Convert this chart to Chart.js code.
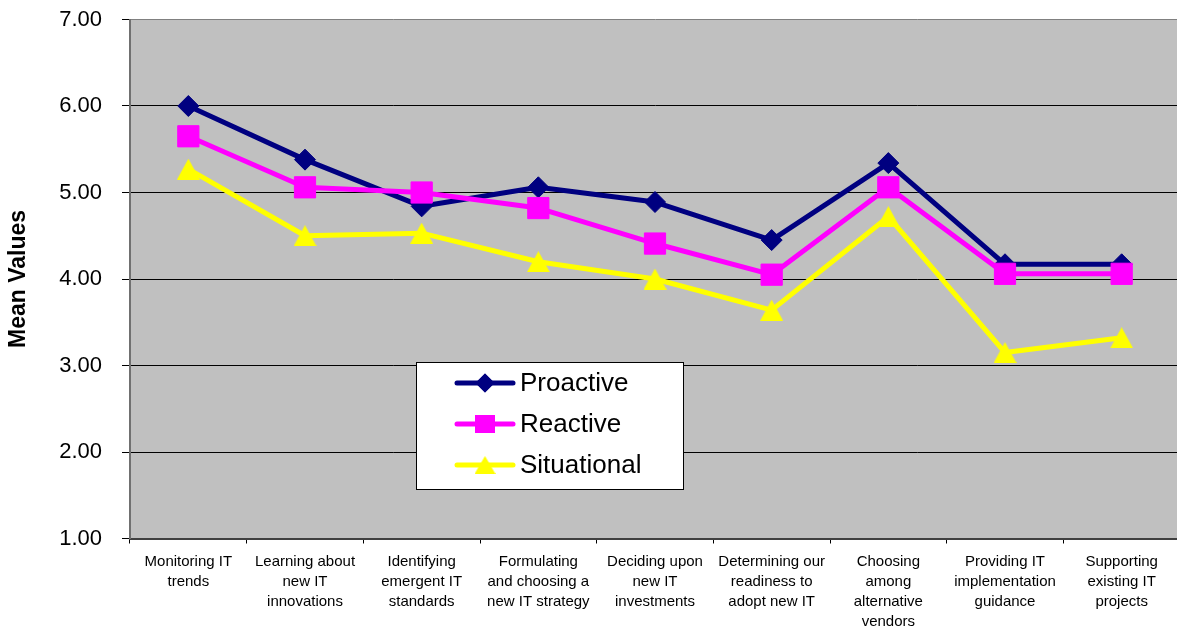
<!DOCTYPE html>
<html>
<head>
<meta charset="utf-8">
<script src="https://cdn.jsdelivr.net/npm/chart.js@4/dist/chart.umd.min.js"></script>
<style>
  html, body { margin: 0; padding: 0; background: #fff; overflow: hidden; }
  #wrap { position: relative; width: 1180px; height: 629px; }
</style>
</head>
<body>
<div id="wrap"><canvas id="c"></canvas></div>
<script>
// Activity categories (x axis, multi-line labels)
const categories = [
  ["Monitoring IT", "trends"],
  ["Learning about", "new IT", "innovations"],
  ["Identifying", "emergent IT", "standards"],
  ["Formulating", "and choosing a", "new IT strategy"],
  ["Deciding upon", "new IT", "investments"],
  ["Determining our", "readiness to", "adopt new IT"],
  ["Choosing", "among", "alternative", "vendors"],
  ["Providing IT", "implementation", "guidance"],
  ["Supporting", "existing IT", "projects"]
];

// Mean values per strategy type
const proactive   = [6.00, 5.38, 4.84, 5.06, 4.89, 4.45, 5.34, 4.17, 4.17];
const reactive    = [5.65, 5.06, 5.00, 4.82, 4.41, 4.05, 5.06, 4.06, 4.06];
const situational = [5.27, 4.50, 4.53, 4.20, 4.00, 3.64, 4.72, 3.15, 3.32];

const seriesNames = ["Proactive", "Reactive", "Situational"];
const yTickValues = [1, 2, 3, 4, 5, 6, 7];

const FONT = "'Liberation Sans', Arial, sans-serif";
const NAVY = "#000080", MAGENTA = "#FF00FF", YELLOW = "#FFFF00";

// Upright triangle marker centred on its bounding box
function makeTriangle(w, h, color) {
  const cv = document.createElement("canvas");
  cv.width = w; cv.height = h;
  const g = cv.getContext("2d");
  g.fillStyle = color;
  g.beginPath();
  g.moveTo(w / 2, 0);
  g.lineTo(w, h);
  g.lineTo(0, h);
  g.closePath();
  g.fill();
  return cv;
}
const triMarker = makeTriangle(23, 21, YELLOW);
const triLegend = makeTriangle(21, 18, YELLOW);

// Grey plot-area background
const plotBg = {
  id: "plotBg",
  beforeDraw(chart) {
    const a = chart.chartArea, ctx = chart.ctx;
    ctx.save();
    ctx.fillStyle = "#C0C0C0";
    ctx.fillRect(a.left, a.top, a.right - a.left, a.bottom - a.top);
    ctx.restore();
  }
};

// Boxed legend inside the plot area
const boxLegend = {
  id: "boxLegend",
  afterDraw(chart) {
    const ctx = chart.ctx;
    const bx = 416.5, by = 362.5, bw = 267, bh = 127;
    ctx.save();
    ctx.fillStyle = "#fff";
    ctx.fillRect(bx, by, bw, bh);
    ctx.strokeStyle = "#000";
    ctx.lineWidth = 1;
    ctx.strokeRect(bx, by, bw, bh);
    const rows = [383, 424, 465];
    const colors = [NAVY, MAGENTA, YELLOW];
    rows.forEach((ry, i) => {
      ctx.strokeStyle = colors[i];
      ctx.lineWidth = 5;
      ctx.lineCap = "round";
      ctx.beginPath();
      ctx.moveTo(457, ry);
      ctx.lineTo(513, ry);
      ctx.stroke();
      ctx.fillStyle = colors[i];
      if (i === 0) {
        Chart.helpers.drawPoint(ctx, { pointStyle: "rectRot", radius: 9.5, rotation: 0, borderWidth: 0 }, 485, ry);
        ctx.fill();
      } else if (i === 1) {
        ctx.fillRect(475, ry - 9, 20, 18);
      } else {
        ctx.drawImage(triLegend, 485 - triLegend.width / 2, ry - triLegend.height / 2);
      }
      ctx.fillStyle = "#000";
      ctx.font = "26px " + FONT;
      ctx.textAlign = "left";
      ctx.textBaseline = "middle";
      ctx.fillText(seriesNames[i], 520, ry + 1);
    });
    ctx.restore();
  }
};

new Chart(document.getElementById("c"), {
  type: "line",
  data: {
    labels: categories,
    datasets: [
      {
        label: seriesNames[0], data: proactive, order: 2,
        borderColor: NAVY, backgroundColor: NAVY, borderWidth: 5,
        pointStyle: "rectRot", pointRadius: 10.5, pointBorderWidth: 1,
        pointBackgroundColor: NAVY, pointBorderColor: NAVY
      },
      {
        label: seriesNames[1], data: reactive, order: 1,
        borderColor: MAGENTA, backgroundColor: MAGENTA, borderWidth: 5,
        pointStyle: "rect", pointRadius: 15, pointBorderWidth: 1,
        pointBackgroundColor: MAGENTA, pointBorderColor: MAGENTA
      },
      {
        label: seriesNames[2], data: situational, order: 0,
        borderColor: YELLOW, backgroundColor: YELLOW, borderWidth: 5,
        pointStyle: triMarker, pointRadius: 11
      }
    ]
  },
  options: {
    responsive: true,
    maintainAspectRatio: false,
    animation: false,
    layout: { autoPadding: false, padding: { top: 19.5, right: 0, bottom: 0, left: 0 } },
    elements: { line: { tension: 0, borderJoinStyle: "round", fill: false } },
    plugins: { legend: { display: false }, tooltip: { enabled: false } },
    scales: {
      x: {
        type: "category",
        offset: true,
        grid: {
          offset: true, drawOnChartArea: false, drawTicks: true,
          tickLength: 5, tickColor: "#000", tickWidth: 1
        },
        border: { display: true, color: "#404040", width: 2 },
        ticks: {
          autoSkip: false, maxRotation: 0, minRotation: 0, padding: 8,
          color: "#000", font: { family: FONT, size: 15, lineHeight: 1.34 }
        },
        afterFit(scale) {
          scale.height = 90.5;
          scale.paddingLeft = 0;
          scale.paddingRight = 0;
        }
      },
      y: {
        min: 1, max: 7,
        afterBuildTicks(scale) { scale.ticks = yTickValues.map(v => ({ value: v })); },
        grid: {
          color: ctx => (ctx.tick && ctx.tick.value === 7 ? "#808080" : "#000"),
          lineWidth: 1, tickLength: 8, tickColor: "#000", tickWidth: 1
        },
        border: { display: true, color: "#707070", width: 2 },
        ticks: {
          padding: 20, color: "#000",
          font: { family: FONT, size: 22 },
          callback: v => Number(v).toFixed(2)
        },
        title: {
          display: true, text: "Mean Values", color: "#000",
          font: { family: FONT, size: 23, weight: "bold" },
          padding: { top: 5, bottom: 0 }
        },
        afterFit(scale) {
          scale.width = 130;
          scale.paddingTop = 0;
          scale.paddingBottom = 0;
        }
      }
    }
  },
  plugins: [plotBg, boxLegend]
});
</script>
</body>
</html>
